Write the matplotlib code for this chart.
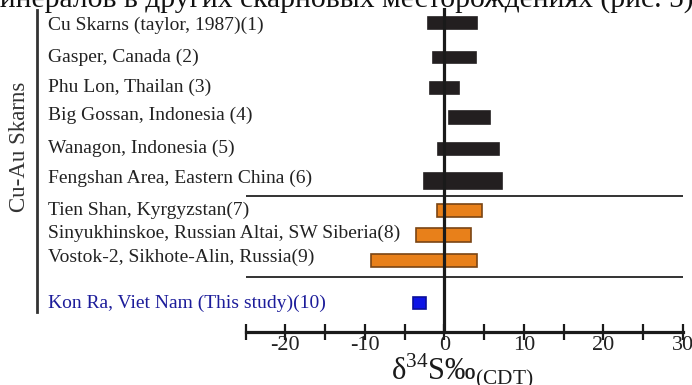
import matplotlib

matplotlib.use("Agg")
import matplotlib.pyplot as plt
from matplotlib.transforms import blended_transform_factory

plt.rcParams["font.family"] = ["Liberation Serif", "DejaVu Serif"]
plt.rcParams["mathtext.fontset"] = "custom"
plt.rcParams["mathtext.rm"] = "Liberation Serif"
plt.rcParams["axes.unicode_minus"] = False

# deposits, top to bottom
labels = [
    "Cu Skarns (taylor, 1987)(1)",
    "Gasper, Canada (2)",
    "Phu Lon, Thailan (3)",
    "Big Gossan, Indonesia (4)",
    "Wanagon, Indonesia (5)",
    "Fengshan Area, Eastern China (6)",
    "Tien Shan, Kyrgyzstan(7)",
    "Sinyukhinskoe, Russian Altai, SW Siberia(8)",
    "Vostok-2, Sikhote-Alin, Russia(9)",
    "Kon Ra, Viet Nam (This study)(10)",
]
# d34S range (permil CDT)
d34s_min = [-2.0, -1.4, -1.8, 0.6, -0.8, -2.5, -0.9, -3.6, -9.2, -4.0]
d34s_max = [4.1, 4.0, 1.9, 5.7, 6.9, 7.3, 4.7, 3.4, 4.1, -2.3]
group = ["cu", "cu", "cu", "cu", "cu", "cu", "ru", "ru", "ru", "kr"]

# layout (vertical slots, in px from top)
row_y = [23, 57, 88, 117.5, 149, 181, 210.5, 235, 260.5, 303]
bar_h = [12, 11, 12, 13, 12, 16, 13, 14, 13, 12]
label_base = [30, 62, 92, 120, 153, 183, 215, 238, 262, 308]
sep_y = [196, 277]

face = {"cu": "#231f20", "ru": "#e8801a", "kr": "#0d14e6"}
edge = {"cu": "#231f20", "ru": "#7a4514", "kr": "#0a0f9a"}
text_col = {"cu": "#222222", "ru": "#222222", "kr": "#1c1c9a"}

W, H = 692, 385
fig = plt.figure(figsize=(W / 100, H / 100), dpi=100)
ax_l, ax_r, ax_t, ax_b = 245.5, 683, 8, 332
ax = fig.add_axes([ax_l / W, 1 - ax_b / H, (ax_r - ax_l) / W, (ax_b - ax_t) / H])
ax.set_xlim(-25, 30)
ax.set_ylim(ax_b, ax_t)
ax.patch.set_visible(False)

for i in range(len(labels)):
    ax.barh(row_y[i], d34s_max[i] - d34s_min[i], left=d34s_min[i], height=bar_h[i],
            color=face[group[i]], edgecolor=edge[group[i]], linewidth=1.2, zorder=2)

ax.axvline(0, color="#1a1a1a", lw=2.3, zorder=3)
for y in sep_y:
    ax.axhline(y, color="#333333", lw=1.4, zorder=1)

for s in ["top", "left", "right"]:
    ax.spines[s].set_visible(False)
ax.spines["bottom"].set_linewidth(2.3)
ax.spines["bottom"].set_color("#1a1a1a")
ax.set_yticks([])
ax.set_xticks(range(-20, 31, 10))
ax.set_xticks(range(-25, 31, 10), minor=True)
ax.tick_params(axis="x", which="both", direction="inout", length=12, width=1.6,
               color="#1a1a1a")
ax.tick_params(axis="x", which="major", labelsize=16, pad=-3, labelcolor="#222222")

ax.text(2.2, 371, r"δ$^{34}$S‰$_{\mathrm{(CDT)}}$", fontsize=22, ha="center", va="center",
        color="#1a1a1a", clip_on=False)

# row labels
tr = blended_transform_factory(fig.transFigure, ax.transData)
for i, lab in enumerate(labels):
    fig.text(48 / W, label_base[i], lab, transform=tr, fontsize=14, va="baseline",
             color=text_col[group[i]])

# group bracket
fig.add_artist(plt.Line2D([37 / W, 37 / W], [1 - 10 / H, 1 - 312 / H], color="#333333", lw=2))
fig.text(20 / W, 1 - 147 / H, "Cu-Au Skarns", rotation=90, fontsize=16.5,
         ha="center", va="center", color="#333333")

# caption line cut off by the crop
fig.text(-0.028, 1 - 7 / H, "минералов в других скарновых месторождениях (рис. 5)",
         fontsize=21.3, va="baseline", color="#111111")

fig.savefig("out.png", dpi=100)
